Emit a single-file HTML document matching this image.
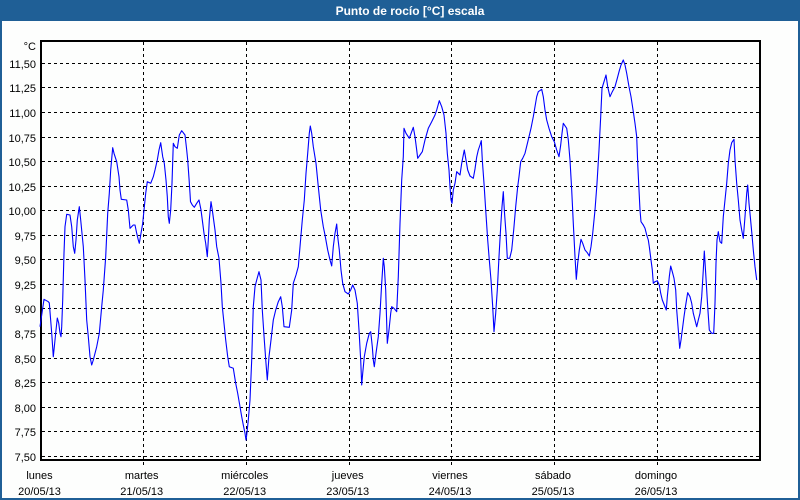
<!DOCTYPE html>
<html><head><meta charset="utf-8"><style>
html,body{margin:0;padding:0;background:#fff;}
svg{display:block;}
text{font-family:"Liberation Sans",sans-serif;}
</style></head><body>
<svg width="800" height="500" viewBox="0 0 800 500" xmlns="http://www.w3.org/2000/svg">
<rect x="0" y="0" width="800" height="500" fill="#1f5f96"/>
<rect x="2" y="21" width="796" height="477" fill="#fdfefd"/>
<text x="410" y="15" fill="#fff" font-size="12" font-weight="bold" text-anchor="middle">Punto de rocío [°C] escala</text>
<g stroke="#000" stroke-width="1" stroke-dasharray="3 3" shape-rendering="crispEdges">
<line x1="42" y1="63.5" x2="759" y2="63.5"/>
<line x1="42" y1="87.5" x2="759" y2="87.5"/>
<line x1="42" y1="112.5" x2="759" y2="112.5"/>
<line x1="42" y1="137.5" x2="759" y2="137.5"/>
<line x1="42" y1="161.5" x2="759" y2="161.5"/>
<line x1="42" y1="186.5" x2="759" y2="186.5"/>
<line x1="42" y1="210.5" x2="759" y2="210.5"/>
<line x1="42" y1="235.5" x2="759" y2="235.5"/>
<line x1="42" y1="259.5" x2="759" y2="259.5"/>
<line x1="42" y1="284.5" x2="759" y2="284.5"/>
<line x1="42" y1="308.5" x2="759" y2="308.5"/>
<line x1="42" y1="333.5" x2="759" y2="333.5"/>
<line x1="42" y1="358.5" x2="759" y2="358.5"/>
<line x1="42" y1="382.5" x2="759" y2="382.5"/>
<line x1="42" y1="407.5" x2="759" y2="407.5"/>
<line x1="42" y1="431.5" x2="759" y2="431.5"/>
<line x1="42" y1="456.5" x2="759" y2="456.5"/>
<line x1="143.5" y1="42" x2="143.5" y2="465"/>
<line x1="246.5" y1="42" x2="246.5" y2="465"/>
<line x1="349.5" y1="42" x2="349.5" y2="465"/>
<line x1="451.5" y1="42" x2="451.5" y2="465"/>
<line x1="554.5" y1="42" x2="554.5" y2="465"/>
<line x1="657.5" y1="42" x2="657.5" y2="465"/>
</g>
<rect x="41" y="41" width="719" height="419" fill="none" stroke="#000" stroke-width="2" shape-rendering="crispEdges"/>
<g font-size="11" fill="#000" text-anchor="end">
<text x="36" y="50">°C</text>
<text x="36" y="68">11,50</text>
<text x="36" y="92">11,25</text>
<text x="36" y="117">11,00</text>
<text x="36" y="142">10,75</text>
<text x="36" y="166">10,50</text>
<text x="36" y="191">10,25</text>
<text x="36" y="215">10,00</text>
<text x="36" y="240">9,75</text>
<text x="36" y="264">9,50</text>
<text x="36" y="289">9,25</text>
<text x="36" y="313">9,00</text>
<text x="36" y="338">8,75</text>
<text x="36" y="363">8,50</text>
<text x="36" y="387">8,25</text>
<text x="36" y="412">8,00</text>
<text x="36" y="436">7,75</text>
<text x="36" y="461">7,50</text>
</g>
<g font-size="11" fill="#000" text-anchor="middle">
<text x="39.5" y="479">lunes</text><text x="39.5" y="495">20/05/13</text>
<text x="141.7" y="479">martes</text><text x="141.7" y="495">21/05/13</text>
<text x="244.7" y="479">miércoles</text><text x="244.7" y="495">22/05/13</text>
<text x="347.7" y="479">jueves</text><text x="347.7" y="495">23/05/13</text>
<text x="450" y="479">viernes</text><text x="450" y="495">24/05/13</text>
<text x="553" y="479">sábado</text><text x="553" y="495">25/05/13</text>
<text x="656" y="479">domingo</text><text x="656" y="495">26/05/13</text>
</g>
<polyline fill="none" stroke="#0000ff" stroke-width="1.1" stroke-linejoin="round" points="
40,326.7 44,299.3 48.3,301.7 49.3,303 51.7,333 53.3,356.7 55,340 55.7,333 57.3,318 58.7,323 60,333 61,336.7 61.7,326.7 62.7,300 64,253 65,226.7 66.7,214.3 70,215 71.7,226.7 73.3,246.7 74.7,253.3 76,240 77.3,220 79.3,206.7 80.7,220 83.3,246.7 85,280 86.7,320 88.3,336.7 90,356.7 91.7,365 93.3,360 96.7,346.7 99.3,333.3 101.7,306.7 103.3,290 105.7,256.7 107.7,213.3 109.3,193.3 110.7,170 112.7,147.7 114,153.3 116.7,161.7 119,176.7 120,190 121.3,199.3 126.7,200 128.3,210 130,228.3 133.3,225 135,225 136.7,233.3 138.3,240 139.3,243.3 141,233.3 142.7,223.3 144,210 145.7,193.3 147.3,181.7 150.7,183.3 153.3,176.7 155,170 157.3,160 159,150 160.7,142.7 162.7,156.7 164.3,163.3 166,180 167.3,196.7 168.3,216.7 169.3,223.3 170.7,210 172,183.3 173.3,143.3 175,146.7 177.3,148.3 179.3,135 181.7,130.7 185,135 186.7,150 187.7,160 189,178.3 190,193.3
190.5,201.7 192.3,205 194.3,207.3 196.7,203.3 199,200 201,210 202.3,220 204,233.3 205.7,243.3 207.3,256.7 208.3,240 209.3,220 211,201.7 212.3,210 215,230 216.7,246.7 219,258.3 221,283.3 222.3,306.7 224,323.3 225.7,340 227.7,356.7 229.3,366.7 233.3,368.3 235.7,383.3 237.7,393.3 240,406.7 241.7,416.7 243.3,425 245,433.3 246,440 246.7,435 248.3,420 250,400 251.7,360 253.3,306.7 255,286.7 256.7,280 259,271.7 261,280 262.3,310 264.3,340 266,363.3 267.3,380 269,356.7 271,340 273.3,320 275.7,310 278.3,301.7 280.7,296.7 282.3,306.7 284,326.7 289.3,327.3 291.7,310 293.3,283.3 296,275 298.3,266.7 300,246.7 302.3,220 304.3,200 306,173.3 307.7,153.3 309.3,133.3 310.3,126 311.7,133.3 313.3,146.7 316,163.3 318.3,186.7 320.7,210 323.3,226.7 325,235 327.7,250 330,260 331.7,266 333.3,246.7 335,233.3
336.7,224 337.7,236.7 339.3,250 341,270 342.7,283.3 345,291.7 348.3,294 350.7,290 352.7,285 355,290 357.3,303.3 359,330 360.7,360 361.7,385 362.7,373.3 364.3,356.7 366.7,343.3 369.3,333.3 370.7,331.7 372.3,346.7 373.3,360 374.3,366.7 376,353.3 378.3,336.7 380,313.3 381.7,283.3 383.3,258.3 384.3,266.7 385.7,290 387.3,343.3 389,330 390.7,313.3 391.7,306.7 394,308.3 396.7,311.7 398.3,276.7 400,223.3 401.7,180 403.3,156.7 404,128.3 406,133.3 409.3,138.3 411.7,131.7 413.3,127.3 415,136.7 416.7,150 417.7,158.3 420,155 422.3,151.7 425,140 428.3,128.3 431.7,121.7 435,115 436.7,110 439.3,100.7 441.7,106.7 444,115 446,133.3 447.3,153.3 449,170 450,186.7 451,200 452,203.3 453.3,190 455,183.3 456.7,171.7 458.3,173.3 460,175 461.7,163.3 463.3,155 464.3,150 466,160 467.7,170 470,176 473.3,178.3 475,169 476.7,157 478.3,150 480,145
481.3,140.7 482.3,160 484,183.3 485.7,210 487.7,240 489.3,260 491,280 492.7,306.7 494,331.7 495.7,313.3 497.3,290 499,256.7 500.7,226.7 502,206.7 503.3,191.7 504.3,210 506,233.3 507.3,258.3 509.7,258.3 511.7,250 513.7,230 515.7,206.7 517.7,186.7 519,176.7 520.7,161.7 522.7,158.3 525,153.3 527,145 529,136.7 531,128.3 533.3,116.7 535,106.7 536.7,96.7 538.3,91.7 541.7,89.3 543.3,96.7 545,110 546.7,120 549,128.3 551.7,136.7 554.3,141.7 556.7,150 559,156.7 560.7,145 562,133.3 563.3,123.3 566.7,128.3 568.3,140 570,160 571.7,190 573.3,223.3 575,256.7 576.3,279.3 577.7,263.3 579.3,250 581,239.3 582.7,243.3 585,250 587.3,252.7 589.3,256 591,246.7 592.7,233.3 595,210 597,183.3 599,150 600.7,116.7 602,88.3 604,81.7 606,75 607.7,86.7 610,96.7 612.3,91.7 615,86.7 617.3,78.3 619.3,70.7
621,65 623.3,60 625,65 626.7,73.3 629,86.7 631,96.7 633.3,111.7 635,123.3 636.7,136.7 637.7,163.3 639,190 640,210 641,221.7 643.3,225 645,228.3 646.7,235 648.3,240 649.3,246.7 651,260 652.3,270 653.3,283.3 655,281.7 657.3,280.7 659.3,285 660.7,293.3 662.3,300 664.3,305 666.3,310 667.3,296.7 668.3,286.7 669.3,276.7 670.7,266 672.3,271.7 674,278.3 675.7,290 676.7,310 678.3,330 679.7,348.3 681,340 682.3,330 684,316.7 685.7,305 687.7,292.7 690,296.7 691.7,303.3 693.3,313.3 695,320 696.7,326.7 698.3,320 700,313.3 701.7,296.7 703.3,270 704.3,251 705.7,273.3 707.7,306.7 709.3,330 711.7,333.3 713.7,333.3 715,303.3 716,263.3 717,240 718.3,231.7 720,241.7 721.7,243.3 723.3,216.7 725,200 726.7,183.3 728.3,163.3 730,150 731.7,142.7 734,139.3 735,160 736.7,183.3 738.3,200 740,220 741.7,230 743.3,238.3 745,216.7 746.7,193.3 747.7,185 749,203.3 750.3,216.7 751.7,231.7 753.3,250 755,266.7 756.7,280"/>
</svg>
</body></html>
